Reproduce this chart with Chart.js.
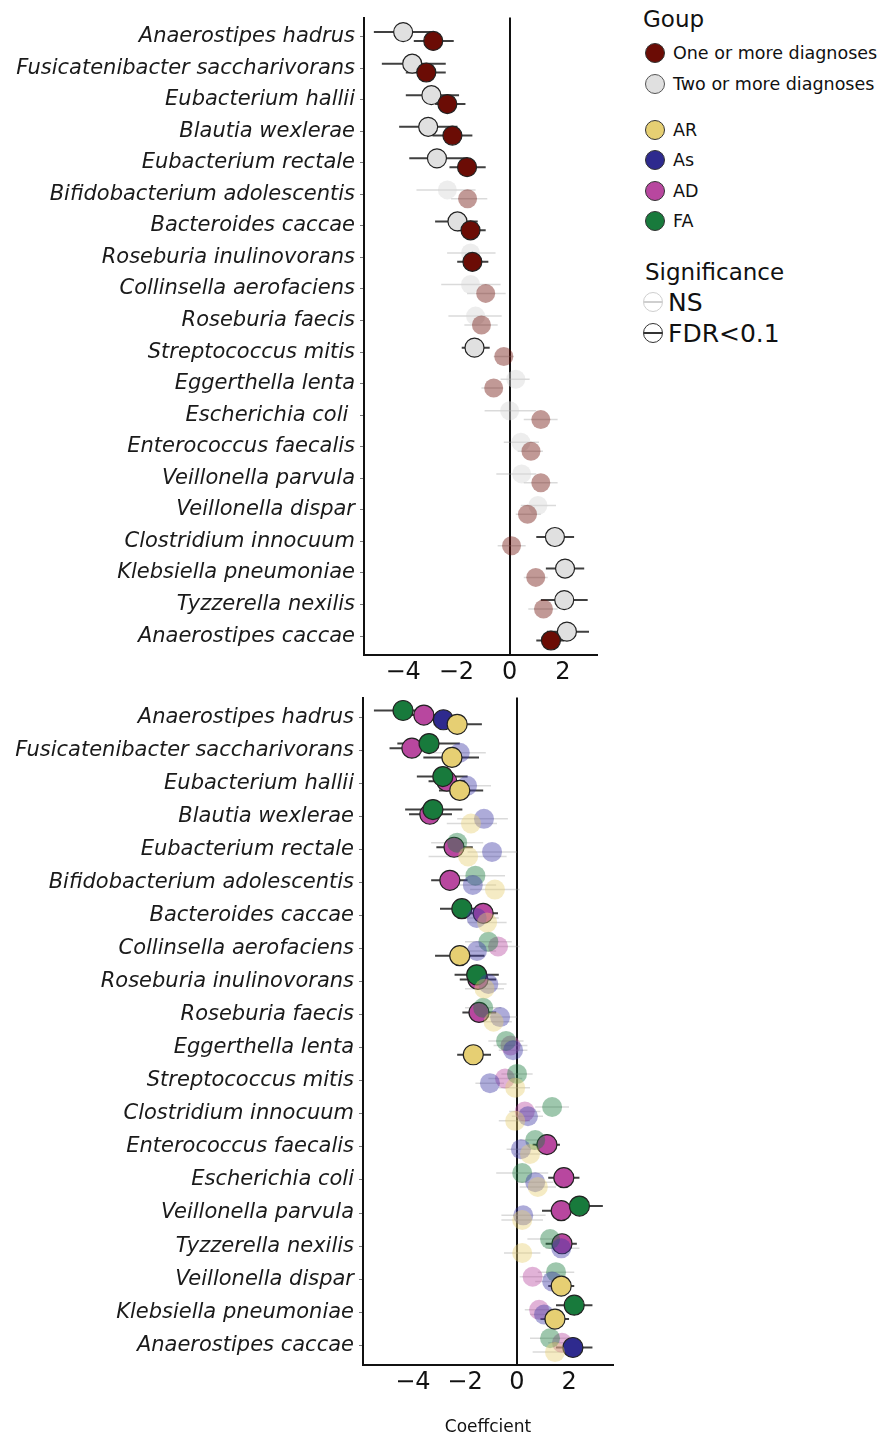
<!DOCTYPE html>
<html>
<head>
<meta charset="utf-8">
<script src="https://cdn.jsdelivr.net/npm/chart.js@4.4.1/dist/chart.umd.min.js"></script>
<style>
  body { margin: 0; background: #fff; width: 889px; height: 1441px; position: relative; overflow: hidden; font-family: 'DejaVu Sans', sans-serif; color: #111; }
  .panel { position: absolute; left: 0; }
  #top-wrap { top: 0; width: 610px; height: 692px; }
  #bottom-wrap { top: 680px; width: 630px; height: 761px; }
  .lg { position: absolute; white-space: nowrap; line-height: 1; }
  .lg-title { font-size: 23px; }
  .lg-text { font-size: 17.5px; }
  .lg-big { font-size: 25px; }
  .dot { position: absolute; width: 20px; height: 20px; border-radius: 50%; border: 1.3px solid #333; box-sizing: border-box; }
  .sig { position: absolute; width: 20px; height: 20px; border-radius: 50%; box-sizing: border-box; }
  .sig::after { content: ''; position: absolute; left: 0; right: 0; top: 8px; height: 1.5px; background: currentColor; }
</style>
</head>
<body>
<div class="panel" id="top-wrap"><canvas id="top-chart"></canvas></div>
<div class="panel" id="bottom-wrap"><canvas id="bottom-chart"></canvas></div>

<div id="legend">
  <div class="lg lg-title" style="left:643px; top:8px;">Goup</div>
  <div class="dot" style="left:645px; top:43px; background:#6b0c05;"></div>
  <div class="lg lg-text" style="left:673px; top:45px;">One or more diagnoses</div>
  <div class="dot" style="left:645px; top:74px; background:#e0e0e0; border-color:#555;"></div>
  <div class="lg lg-text" style="left:673px; top:76px;">Two or more diagnoses</div>

  <div class="dot" style="left:645px; top:120px; background:#e6cf73;"></div>
  <div class="lg lg-text" style="left:673px; top:122px;">AR</div>
  <div class="dot" style="left:645px; top:150px; background:#2e2a8e;"></div>
  <div class="lg lg-text" style="left:673px; top:152px;">As</div>
  <div class="dot" style="left:645px; top:181px; background:#b8479f;"></div>
  <div class="lg lg-text" style="left:673px; top:183px;">AD</div>
  <div class="dot" style="left:645px; top:211px; background:#187a3c;"></div>
  <div class="lg lg-text" style="left:673px; top:213px;">FA</div>

  <div class="lg lg-title" style="left:645px; top:261px;">Significance</div>
  <div class="sig" style="left:643px; top:292px; border:1.3px solid #cfcfcf; color:#cfcfcf;"></div>
  <div class="lg lg-big" style="left:668px; top:290px;">NS</div>
  <div class="sig" style="left:643px; top:323px; border:1.3px solid #333; color:#333;"></div>
  <div class="lg lg-big" style="left:668px; top:321px;">FDR&lt;0.1</div>
</div>

<script>
// ─── Data: top panel (number of diagnoses) ──────────────────

const topSpecies = [
  'Anaerostipes hadrus', 'Fusicatenibacter saccharivorans', 'Eubacterium hallii',
  'Blautia wexlerae', 'Eubacterium rectale', 'Bifidobacterium adolescentis',
  'Bacteroides caccae', 'Roseburia inulinovorans', 'Collinsella aerofaciens',
  'Roseburia faecis', 'Streptococcus mitis', 'Eggerthella lenta', 'Escherichia coli ',
  'Enterococcus faecalis', 'Veillonella parvula', 'Veillonella dispar',
  'Clostridium innocuum', 'Klebsiella pneumoniae', 'Tyzzerella nexilis', 'Anaerostipes caccae',
];

// One or more diagnoses
const oneCoef = [-2.87, -3.13, -2.34, -2.15, -1.60, -1.58, -1.47, -1.40, -0.90, -1.06, -0.22, -0.60, 1.17, 0.80, 1.17, 0.67, 0.07, 0.98, 1.27, 1.55];
const oneLo   = [-3.60, -3.90, -2.80, -2.90, -2.26, -2.20, -1.97, -1.97, -1.60, -1.70, -0.60, -1.06, 0.53, 0.30, 0.53, 0.23, -0.45, 0.53, 0.70, 1.00];
const oneHi   = [-2.10, -2.40, -1.66, -1.40, -0.90, -0.84, -0.90, -0.80, -0.15, -0.45, 0.15, -0.26, 1.80, 1.25, 1.80, 1.17, 0.60, 1.43, 1.80, 2.05];
const oneSig  = [1, 1, 1, 1, 1, 0, 1, 1, 0, 0, 0, 0, 0, 0, 0, 0, 0, 0, 0, 1];

// Two or more diagnoses
const twoCoef = [-4.00, -3.66, -2.94, -3.06, -2.73, -2.34, -1.96, -1.47, -1.47, -1.28, -1.32, 0.23, 0.00, 0.42, 0.45, 1.06, 1.70, 2.08, 2.05, 2.15];
const twoLo   = [-5.10, -4.80, -3.90, -4.15, -3.77, -3.50, -2.80, -2.35, -2.57, -2.30, -1.80, -0.34, -0.94, -0.22, -0.50, 0.42, 1.00, 1.36, 1.17, 1.40];
const twoHi   = [-2.90, -2.40, -1.90, -1.96, -1.60, -1.28, -1.20, -0.53, -0.34, -0.30, -0.75, 0.75, 1.00, 1.10, 1.00, 1.74, 2.42, 2.80, 2.93, 2.98];
const twoSig  = [1, 1, 1, 1, 1, 0, 1, 0, 0, 0, 1, 0, 0, 0, 0, 0, 1, 1, 1, 1];

// ─── Data: bottom panel (per diagnosis) ─────────────────────

const bottomSpecies = [
  'Anaerostipes hadrus', 'Fusicatenibacter saccharivorans', 'Eubacterium hallii',
  'Blautia wexlerae', 'Eubacterium rectale', 'Bifidobacterium adolescentis',
  'Bacteroides caccae', 'Collinsella aerofaciens', 'Roseburia inulinovorans',
  'Roseburia faecis', 'Eggerthella lenta', 'Streptococcus mitis', 'Clostridium innocuum',
  'Enterococcus faecalis', 'Escherichia coli', 'Veillonella parvula', 'Tyzzerella nexilis',
  'Veillonella dispar', 'Klebsiella pneumoniae', 'Anaerostipes caccae',
];

const arCoef = [-2.30, -2.50, -2.20, -1.77, -1.88, -0.85, -1.15, -2.20, -1.25, -0.90, -1.68, -0.07, -0.07, 0.50, 0.80, 0.20, 0.20, 1.70, 1.46, 1.46];
const arLo   = [-3.20, -3.60, -3.00, -2.70, -3.40, -1.80, -1.90, -3.15, -2.00, -1.60, -2.30, -0.70, -0.70, -0.10, 0.10, -0.60, -0.50, 1.20, 0.90, 0.60];
const arHi   = [-1.35, -1.46, -1.30, -0.77, -0.40, 0.10, -0.40, -1.25, -0.50, -0.20, -1.00, 0.50, 0.50, 1.10, 1.50, 1.00, 0.90, 2.20, 2.00, 2.30];
const arSig  = [1, 1, 1, 0, 0, 0, 0, 1, 0, 0, 1, 0, 0, 0, 0, 0, 0, 1, 1, 0];

const asCoef = [-2.83, -2.20, -1.92, -1.27, -0.96, -1.70, -1.55, -1.54, -1.10, -0.65, -0.15, -1.04, 0.42, 0.15, 0.70, 0.24, 1.70, 1.35, 1.04, 2.15];
const asLo   = [-3.50, -3.20, -2.80, -2.30, -1.90, -2.60, -2.30, -2.30, -1.80, -1.30, -0.70, -1.60, -0.20, -0.40, 0.00, -0.60, 1.10, 0.70, 0.50, 1.50];
const asHi   = [-2.10, -1.20, -1.00, -0.35, 0.00, -0.80, -0.70, -0.80, -0.40, 0.00, 0.40, -0.50, 1.00, 0.70, 1.40, 1.10, 2.40, 2.00, 1.60, 2.90];
const asSig  = [1, 0, 0, 0, 0, 0, 0, 0, 0, 0, 0, 0, 0, 0, 0, 0, 0, 0, 0, 1];

const adCoef = [-3.58, -4.04, -2.70, -3.35, -2.42, -2.58, -1.30, -0.73, -1.50, -1.46, -0.25, -0.46, 0.30, 1.15, 1.80, 1.70, 1.73, 0.60, 0.85, 1.73];
const adLo   = [-4.30, -4.90, -3.40, -4.15, -3.10, -3.30, -1.90, -1.60, -2.20, -2.10, -0.90, -1.10, -0.30, 0.60, 1.20, 0.96, 1.10, 0.10, 0.30, 1.20];
const adHi   = [-2.90, -3.20, -2.00, -2.50, -1.70, -1.90, -0.73, 0.10, -0.80, -0.80, 0.40, 0.20, 0.90, 1.65, 2.40, 2.40, 2.30, 1.10, 1.40, 2.30];
const adSig  = [1, 1, 1, 1, 1, 1, 1, 0, 1, 1, 0, 0, 0, 1, 1, 1, 1, 0, 0, 0];

const faCoef = [-4.38, -3.38, -2.85, -3.23, -2.30, -1.60, -2.12, -1.10, -1.55, -1.30, -0.42, 0.00, 1.35, 0.70, 0.20, 2.40, 1.27, 1.50, 2.20, 1.27];
const faLo   = [-5.50, -4.60, -3.85, -4.30, -3.30, -2.70, -2.96, -2.00, -2.40, -2.00, -1.10, -0.60, 0.70, 0.10, -0.80, 1.40, 0.40, 0.80, 1.50, 0.50];
const faHi   = [-3.30, -2.20, -1.90, -2.10, -1.30, -0.46, -1.30, -0.20, -0.70, -0.60, 0.25, 0.60, 2.00, 1.30, 1.20, 3.30, 2.10, 2.20, 2.90, 2.00];
const faSig  = [1, 1, 1, 1, 0, 0, 1, 0, 1, 0, 0, 0, 0, 0, 0, 1, 0, 0, 1, 0];

const xTicks = [-4, -2, 0, 2];

// ─── Helpers ────────────────────────────────────────────────

const FONT = 'DejaVu Sans';
const SIG_EDGE = '#222';
const SIG_BAR = '#404040';
const NS_BAR = 'rgba(150,150,150,0.35)';

function pointDataset(coef, sig, offset, color, nsColor, radius, order) {
  return {
    type: 'scatter',
    data: coef.map((v, i) => ({ x: v, y: i + offset })),
    pointRadius: radius,
    pointHoverRadius: radius,
    pointBackgroundColor: sig.map(s => s ? color : nsColor),
    pointBorderColor: sig.map(s => s ? SIG_EDGE : 'rgba(0,0,0,0)'),
    pointBorderWidth: sig.map(s => s ? 1.2 : 0),
    order,
  };
}

function errorDataset(lo, hi, sig, want, offset, order) {
  const data = [];
  lo.forEach((l, i) => {
    if (sig[i] !== want) return;
    data.push({ x: l, y: i + offset }, { x: hi[i], y: i + offset }, { x: null, y: null });
  });
  return {
    type: 'line',
    data,
    borderColor: want ? SIG_BAR : NS_BAR,
    borderWidth: want ? 2 : 1.5,
    pointRadius: 0,
    spanGaps: false,
    fill: false,
    order,
  };
}

function minusLabel(v) {
  return v < 0 ? '\u2212' + Math.abs(v) : String(v);
}

function panelOptions(species, xMin, xMax, yWidth, xHeight, padding, title) {
  return {
    responsive: true,
    maintainAspectRatio: false,
    animation: false,
    layout: { padding },
    plugins: { legend: { display: false }, tooltip: { enabled: false } },
    scales: {
      x: {
        type: 'linear',
        min: xMin,
        max: xMax,
        afterBuildTicks: s => { s.ticks = xTicks.map(v => ({ value: v })); },
        afterFit: s => { s.height = xHeight; },
        ticks: { callback: minusLabel, color: '#111', padding: 3, font: { family: FONT, size: 24 } },
        grid: {
          drawTicks: false,
          lineWidth: 2,
          color: ctx => (ctx.tick && ctx.tick.value === 0) ? '#111' : 'rgba(0,0,0,0)',
        },
        border: { display: true, color: '#111', width: 2 },
        title: title
          ? { display: true, text: title, color: '#111', padding: { top: 0, bottom: 3 }, font: { family: FONT, size: 17 } }
          : { display: false },
      },
      y: {
        type: 'linear',
        reverse: true,
        min: -0.6,
        max: species.length - 0.4,
        afterBuildTicks: s => { s.ticks = species.map((_, i) => ({ value: i })); },
        afterFit: s => { s.width = yWidth; },
        ticks: {
          autoSkip: false,
          padding: 5,
          color: '#1a1a1a',
          callback: v => species[v],
          font: { family: FONT, size: 21, style: 'italic' },
        },
        grid: { drawOnChartArea: false, drawTicks: true, tickLength: 4, color: '#777' },
        border: { display: true, color: '#111', width: 2 },
      },
    },
  };
}

// ─── Top panel ──────────────────────────────────────────────

new Chart(document.getElementById('top-chart'), {
  type: 'scatter',
  data: {
    datasets: [
      pointDataset(oneCoef, oneSig, 0.14, '#6b0c05', 'rgba(107,12,5,0.42)', 9.5, 1),
      pointDataset(twoCoef, twoSig, -0.14, '#e0e0e0', 'rgba(215,215,215,0.45)', 9.5, 2),
      errorDataset(oneLo, oneHi, oneSig, 1, 0.14, 10),
      errorDataset(oneLo, oneHi, oneSig, 0, 0.14, 12),
      errorDataset(twoLo, twoHi, twoSig, 1, -0.14, 11),
      errorDataset(twoLo, twoHi, twoSig, 0, -0.14, 13),
    ],
  },
  options: panelOptions(topSpecies, -5.47, 3.28, 364, 37, { top: 12, right: 13, left: 0, bottom: 0 }, null),
});

// ─── Bottom panel ───────────────────────────────────────────

const groups = [
  { coef: arCoef, lo: arLo, hi: arHi, sig: arSig, off: 0.21, color: '#e6cf73', ns: 'rgba(230,207,115,0.42)', order: 1 },
  { coef: asCoef, lo: asLo, hi: asHi, sig: asSig, off: 0.07, color: '#2e2a8e', ns: 'rgba(60,55,165,0.42)', order: 2 },
  { coef: faCoef, lo: faLo, hi: faHi, sig: faSig, off: -0.21, color: '#187a3c', ns: 'rgba(24,122,60,0.42)', order: 3 },
  { coef: adCoef, lo: adLo, hi: adHi, sig: adSig, off: -0.07, color: '#b8479f', ns: 'rgba(184,71,159,0.42)', order: 4 },
];

const bottomSets = [];
groups.forEach((g, k) => {
  bottomSets.push(pointDataset(g.coef, g.sig, g.off, g.color, g.ns, 10, g.order));
  bottomSets.push(errorDataset(g.lo, g.hi, g.sig, 1, g.off, 10 + k));
  bottomSets.push(errorDataset(g.lo, g.hi, g.sig, 0, g.off, 20 + k));
});

new Chart(document.getElementById('bottom-chart'), {
  type: 'scatter',
  data: { datasets: bottomSets },
  options: panelOptions(bottomSpecies, -5.92, 3.69, 363, 76, { top: 13, right: 17, left: 0, bottom: 0 }, 'Coeffcient'),
});
</script>
</body>
</html>
